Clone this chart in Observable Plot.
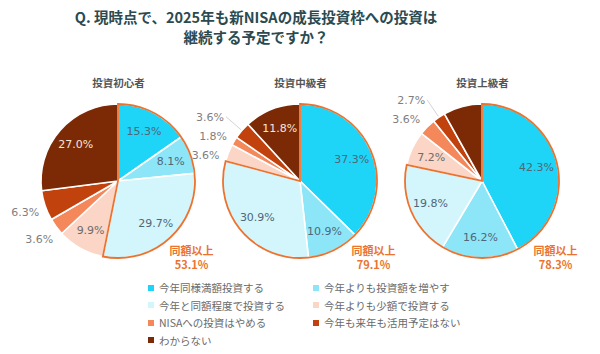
<!DOCTYPE html>
<html>
<head>
<meta charset="utf-8">
<script src="https://cdn.jsdelivr.net/npm/d3@7"></script>
<script src="https://cdn.jsdelivr.net/npm/@observablehq/plot@0.6"></script>
<style>
  body { margin: 0; background: #fff; font-family: "Noto Sans CJK JP", "Noto Sans", sans-serif; }
  #wrap { width: 600px; height: 354px; position: relative; overflow: hidden; }
  #title { position: absolute; left: 0; top: 7px; width: 512px; text-align: center; font-size: 14.5px; font-weight: bold; line-height: 20px; color: #2b4a50; }
  #chart { position: absolute; left: 0; top: 60px; }
  #legend { position: absolute; left: 148px; top: 279px; display: grid; grid-template-columns: 165px 200px; grid-auto-rows: 17.5px; font-size: 10.5px; color: #6a6a6a; }
  .item { display: flex; align-items: center; white-space: nowrap; }
  .sw { width: 6px; height: 6px; margin-right: 5px; flex: none; }
</style>
</head>
<body>
<div id="wrap">
  <div id="title">Q. 現時点で、2025年も新NISAの成長投資枠への投資は<br>継続する予定ですか？</div>
  <div id="chart"></div>
  <div id="legend"></div>
</div>
<script>
// ---- data ----
const groups = ["投資初心者", "投資中級者", "投資上級者"];
const categories = [
  "今年同様満額投資する",
  "今年よりも投資額を増やす",
  "今年と同額程度で投資する",
  "今年よりも少額で投資する",
  "NISAへの投資はやめる",
  "今年も来年も活用予定はない",
  "わからない"
];
const beginner = [15.3, 8.1, 29.7, 9.9, 3.6, 6.3, 27.0];
const intermediate = [37.3, 10.9, 30.9, 3.6, 1.8, 3.6, 11.8];
const advanced = [42.3, 16.2, 19.8, 7.2, 3.6, 2.7, 8.1];
const sameOrMoreLabel = "同額以上";
const sameOrMore = [53.1, 79.1, 78.3];
const sameOrMoreCategories = categories.slice(0, 3);
const hiddenLabels = [["投資上級者", "わからない"]];

// ---- styles ----
const colors = ["#1ED5F7", "#8DE6F8", "#D3F6FC", "#FBD5C5", "#F5885B", "#C2420D", "#7C2A06"];
const labelColors = ["#4F6779", "#4F6779", "#4F6779", "#6c6c6c", "#7f7f7f", "#F6E6DE", "#F6E6DE"];
const outlineColor = "#EB7330";
const R = 77;

const color = Plot.scale({color: {type: "ordinal", domain: categories, range: colors}});
const series = [beginner, intermediate, advanced];
const slices = groups.flatMap((g, gi) => categories.map((c, ci) => ({
  group: g, category: c, ci, value: series[gi][ci],
  hidden: hiddenLabels.some(([hg, hc]) => hg === g && hc === c)
})));

function pieMark(index, scales, values, dimensions) {
  const {height, marginTop, marginBottom} = dimensions;
  const cy = marginTop + (height - marginTop - marginBottom) / 2;
  const root = d3.create("svg:g");
  const arc = d3.arc().innerRadius(0).outerRadius(R);
  for (const g of groups) {
    const cx = scales.x(g);
    const data = slices.filter(d => d.group === g);
    const arcs = d3.pie().sort(null).value(d => d.value)(data);
    const gg = root.append("g").attr("transform", `translate(${cx},${cy})`);
    gg.selectAll("path").data(arcs).join("path")
      .attr("d", arc)
      .attr("fill", d => color.apply(d.data.category))
      .attr("stroke", "white").attr("stroke-width", 1.6).attr("stroke-linejoin", "round");
    const groupEnd = d3.max(arcs.filter(a => sameOrMoreCategories.includes(a.data.category)), a => a.endAngle);
    gg.append("path")
      .attr("d", arc({startAngle: 0, endAngle: groupEnd}))
      .attr("fill", "none").attr("stroke", outlineColor).attr("stroke-width", 1.8);
    // inside labels
    const fmt = v => v.toFixed(1) + "%";
    for (const a of arcs) {
      if (a.data.hidden || a.data.value < 7) continue;
      const m = (a.startAngle + a.endAngle) / 2;
      const rr = R * 0.73;
      gg.append("text")
        .attr("x", rr * Math.sin(m)).attr("y", -rr * Math.cos(m)).attr("dy", "0.35em")
        .attr("text-anchor", "middle").attr("font-family", "DejaVu Sans").attr("font-size", 11)
        .attr("fill", labelColors[a.data.ci]).text(fmt(a.data.value));
    }
    // outside labels with simple collision avoidance
    const R2 = 98;
    const outs = arcs.filter(a => !a.data.hidden && a.data.value < 7).map(a => {
      const m = (a.startAngle + a.endAngle) / 2;
      return {a, m, x: R2 * Math.sin(m), y: -R2 * Math.cos(m), cluster: false, top: false};
    });
    for (const side of [-1, 1]) {
      const s = outs.filter(o => Math.sign(o.x) === side).sort((p, q) => p.y - q.y);
      for (let i = 1; i < s.length; i++) {
        if (s[i].y < s[i - 1].y + 19) {
          if (!s[i - 1].cluster) s[i - 1].top = true;
          s[i - 1].cluster = true; s[i].cluster = true;
          s[i].y = s[i - 1].y + 19;
          s[i].x = side * Math.sqrt(Math.max(0, R2 * R2 - s[i].y * s[i].y));
        }
      }
    }
    for (const o of outs) {
      let x = o.x;
      if (o.top) {
        x -= 16;
        const ex = (R + 1) * Math.sin(o.m), ey = -(R + 1) * Math.cos(o.m);
        gg.append("path")
          .attr("d", `M${x + 16},${o.y}L${ex},${ey}`)
          .attr("stroke", "#c8c8c8").attr("stroke-width", 0.8).attr("fill", "none");
      }
      gg.append("text")
        .attr("x", x).attr("y", o.y).attr("dy", "0.35em")
        .attr("text-anchor", "middle").attr("font-family", "DejaVu Sans").attr("font-size", 11)
        .attr("fill", "#7f7f7f").text(fmt(o.a.data.value));
    }
  }
  return root.node();
}

const chart = Plot.plot({
  width: 600,
  height: 220,
  marginTop: 40,
  marginBottom: 18,
  marginLeft: 0,
  marginRight: 0,
  style: {fontFamily: "'Noto Sans CJK JP', sans-serif", background: "white"},
  x: {type: "point", domain: groups, range: [117, 482], padding: 0, axis: null},
  marks: [
    pieMark,
    Plot.text(groups, {x: d => d, frameAnchor: "top", dy: -21, text: d => d, fontWeight: "bold", fontSize: 10.5, fill: "#555"}),
    Plot.text(groups.map((g, i) => ({group: g, v: sameOrMore[i]})), {
      x: "group", frameAnchor: "middle", dx: 73, dy: 76,
      text: d => `${sameOrMoreLabel}\n${d.v.toFixed(1)}%`,
      fill: outlineColor, fontWeight: "bold", fontSize: 11, lineHeight: 1.32
    })
  ]
});
document.getElementById("chart").appendChild(chart);

// legend (row-major, 2 columns)
const legend = d3.select("#legend");
for (const c of categories) {
  const item = legend.append("div").attr("class", "item");
  item.append("span").attr("class", "sw").style("background", color.apply(c));
  item.append("span").text(c);
}
</script>
</body>
</html>
